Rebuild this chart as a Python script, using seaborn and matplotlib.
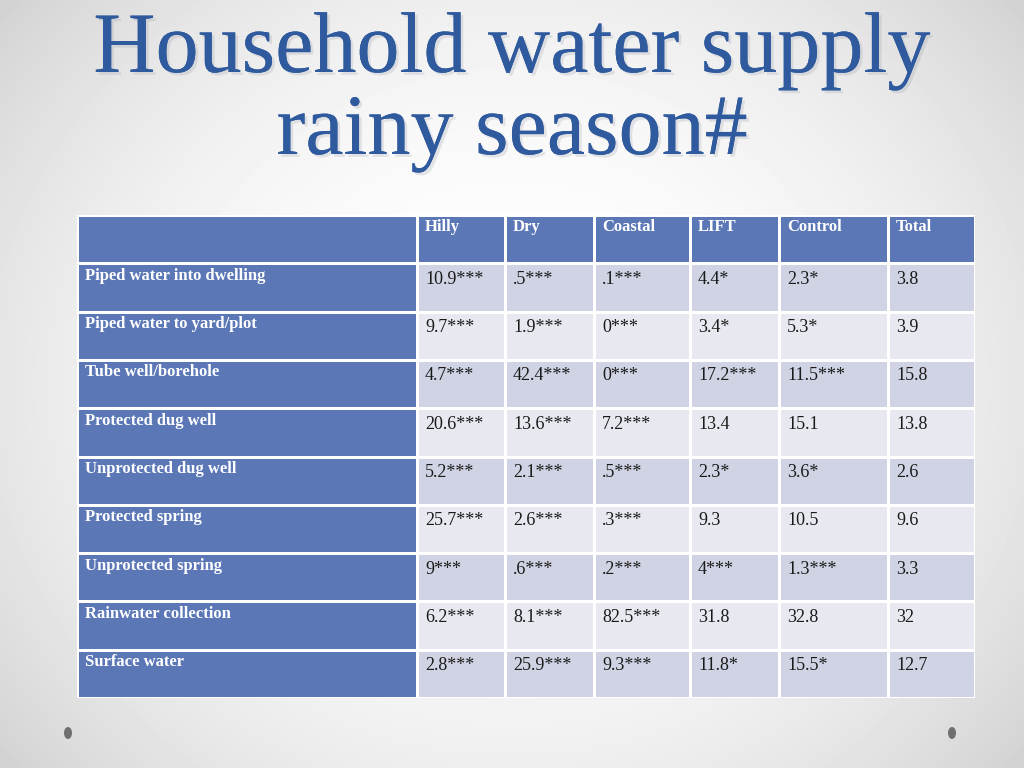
import numpy as np
import pandas as pd
import matplotlib
matplotlib.use("Agg")
import matplotlib.pyplot as plt
import matplotlib.patheffects as pe
from matplotlib.colors import ListedColormap
from matplotlib.patches import Ellipse
import seaborn as sns

# ---------------- data ----------------
title_lines = ["Household water supply", "rainy season#"]
columns = ["Hilly", "Dry", "Coastal", "LIFT", "Control", "Total"]
sources = ["Piped water into dwelling", "Piped water to yard/plot", "Tube well/borehole",
           "Protected dug well", "Unprotected dug well", "Protected spring",
           "Unprotected spring", "Rainwater collection", "Surface water"]
hilly   = ["10.9***", "9.7***", "4.7***", "20.6***", "5.2***", "25.7***", "9***", "6.2***", "2.8***"]
dry     = [".5***", "1.9***", "42.4***", "13.6***", "2.1***", "2.6***", ".6***", "8.1***", "25.9***"]
coastal = [".1***", "0***", "0***", "7.2***", ".5***", ".3***", ".2***", "82.5***", "9.3***"]
lift    = ["4.4*", "3.4*", "17.2***", "13.4", "2.3*", "9.3", "4***", "31.8", "11.8*"]
control = ["2.3*", "5.3*", "11.5***", "15.1", "3.6*", "10.5", "1.3***", "32.8", "15.5*"]
total   = ["3.8", "3.9", "15.8", "13.8", "2.6", "9.6", "3.3", "32", "12.7"]

cells = pd.DataFrame({"Hilly": hilly, "Dry": dry, "Coastal": coastal,
                      "LIFT": lift, "Control": control, "Total": total}, index=sources)

# ---------------- style / layout ----------------
BLUE = "#5b77b6"
DARK = "#d0d3e3"
LIGHT = "#e8e9f0"
TITLE_C = "#2f5a9e"
SERIF = "Liberation Serif"
col_edges = [77, 417, 505, 594, 690, 779, 888, 975]   # pixel edges of table columns
top, bottom = 215, 698

sns.set_theme(style="white")
plt.rcParams["font.family"] = [SERIF, "DejaVu Serif"]

W, H = 1024, 768
fig = plt.figure(figsize=(W / 100, H / 100), dpi=100)

# background gradient
bg = fig.add_axes([0, 0, 1, 1], zorder=-10)
yy, xx = np.mgrid[0:1:200j, 0:1:260j]
d = np.sqrt(((xx - 0.5) / 0.62) ** 2 + ((yy - 0.5) / 0.75) ** 2)
g = np.clip(1.0 - 0.16 * d ** 2.2, 0.80, 1.0)
bg.imshow(g, cmap="gray", vmin=0, vmax=1, aspect="auto", extent=[0, 1, 0, 1], interpolation="bicubic")
bg.set_axis_off()

def fx(px):
    return px / W

def fy(py):
    return 1 - py / H

nrows = len(sources) + 1
cmap = ListedColormap([BLUE, DARK, LIGHT])

def col_axes(k):
    x0, x1 = col_edges[k], col_edges[k + 1]
    ax = fig.add_axes([fx(x0), fy(bottom), (x1 - x0) / W, (bottom - top) / H])
    return ax, x1 - x0

# label column
lab_ax, lw = col_axes(0)
sns.heatmap(np.zeros((nrows, 1)), ax=lab_ax, cmap=cmap, vmin=0, vmax=2, cbar=False,
            linewidths=2, linecolor="white", xticklabels=False, yticklabels=False)
for i, s in enumerate(sources):
    lab_ax.text(8 / lw, i + 1 + 0.26, s, ha="left", va="center", color="white",
                fontsize=12, fontweight="bold")

# data columns, one heatmap per column
row_codes = [0] + [1 if r % 2 == 0 else 2 for r in range(len(sources))]
for j, c in enumerate(columns):
    ax, cw = col_axes(j + 1)
    sns.heatmap(np.array(row_codes).reshape(-1, 1), ax=ax, cmap=cmap, vmin=0, vmax=2,
                cbar=False, linewidths=2, linecolor="white",
                xticklabels=False, yticklabels=False)
    ax.text(8 / cw, 0.24, c, ha="left", va="center", color="white",
            fontsize=12, fontweight="bold")
    for i, v in enumerate(cells[c]):
        ax.text(8 / cw, i + 1 + 0.33, v, ha="left", va="center",
                color="#1a1a1a", fontsize=13)

# title
shadow = [pe.withSimplePatchShadow(offset=(2, -2), shadow_rgbFace="#9aa0ad", alpha=0.25), pe.Normal()]
for k, line in enumerate(title_lines):
    base = [72, 154][k]
    fig.text(0.5, fy(base), line, ha="center", va="baseline", fontsize=62,
             color=TITLE_C, path_effects=shadow)

# decorative dots
for xc in (68, 952):
    fig.patches.append(Ellipse((fx(xc), fy(733)), 8 / W, 12 / H, transform=fig.transFigure,
                               facecolor="#6f6f6f", edgecolor="none"))

fig.savefig("out.png", dpi=100)
